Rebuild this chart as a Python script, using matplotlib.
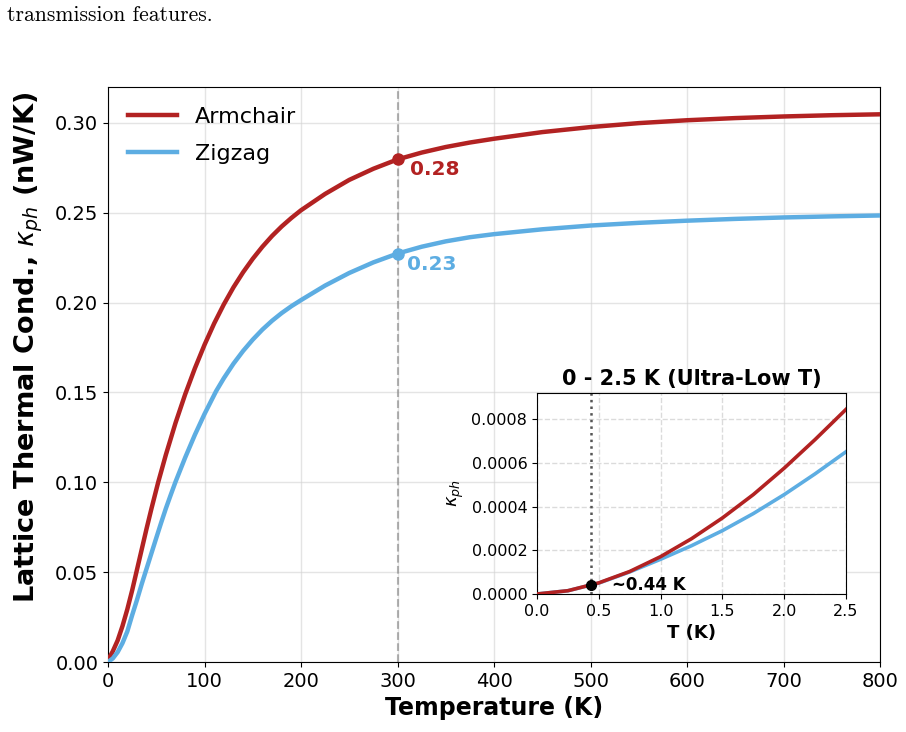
import numpy as np
import matplotlib
matplotlib.use('Agg')
from matplotlib import pyplot as plt

# main curves (nW/K)
T_arm = [0, 5, 10, 15, 20, 25, 30, 35, 40, 45, 52, 60, 70, 80, 90, 100, 110, 120, 130,
         140, 150, 160, 170, 180, 190, 200, 225, 250, 275, 300, 325, 350, 375, 400, 450,
         500, 550, 600, 650, 700, 750, 800]
k_arm = [0.001, 0.006, 0.012, 0.020, 0.0293, 0.0398, 0.0513, 0.0628, 0.0743, 0.0853,
         0.100, 0.1154, 0.1331, 0.149, 0.1634, 0.1765, 0.1884, 0.199, 0.2085, 0.2169,
         0.2244, 0.2311, 0.2371, 0.2424, 0.2471, 0.2514, 0.2605, 0.2683, 0.2745, 0.2797,
         0.2835, 0.2866, 0.2891, 0.2912, 0.2949, 0.2977, 0.2999, 0.3015, 0.3027, 0.3036,
         0.3043, 0.3048]

T_zig = [0, 5, 10, 15, 20, 25, 30, 35, 40, 45, 50, 55, 60, 65, 70, 80, 90, 100, 112, 120,
         130, 140, 150, 160, 170, 180, 190, 200, 225, 250, 275, 300, 325, 350, 375, 400,
         450, 500, 550, 600, 650, 700, 750, 800]
k_zig = [0.0, 0.002, 0.0055, 0.0105, 0.017, 0.026, 0.0345, 0.0435, 0.052, 0.0605, 0.069,
         0.0774, 0.0855, 0.093, 0.1003, 0.1138, 0.1264, 0.138, 0.1507, 0.1579, 0.166,
         0.1731, 0.1794, 0.185, 0.1899, 0.1942, 0.198, 0.2014, 0.2095, 0.2165, 0.2224,
         0.2273, 0.2311, 0.2341, 0.2364, 0.2381, 0.2408, 0.2429, 0.2444, 0.2456, 0.2466,
         0.2474, 0.2480, 0.2485]

T_room = 300
k_room_arm = 0.2797
k_room_zig = 0.2273

# ultra-low T inset
T_low = [0, 0.25, 0.5, 0.75, 1.0, 1.25, 1.5, 1.75, 2.0, 2.25, 2.5]
k_low_arm = [0, 1.5e-5, 5.1e-5, 1.03e-4, 1.71e-4, 2.53e-4, 3.48e-4, 4.55e-4, 5.76e-4, 7.07e-4, 8.45e-4]
k_low_zig = [0, 1.5e-5, 5.0e-5, 1.01e-4, 1.59e-4, 2.21e-4, 2.90e-4, 3.68e-4, 4.55e-4, 5.50e-4, 6.51e-4]
T_cross = 0.44
k_cross = 4.1e-5

red = '#B22222'
blue = '#5DADE2'

W, H = 906, 732
fig = plt.figure(figsize=(W / 100, H / 100), dpi=100)

fig.text(7 / W, 1 - 21 / H, 'transmission features.', family='cmr10', fontsize=15.5,
         ha='left', va='baseline')

ax = fig.add_axes([108 / W, (H - 662) / H, (880 - 108) / W, (662 - 87) / H])
ax.plot(T_arm, k_arm, color=red, lw=3.2, label='Armchair', zorder=3)
ax.plot(T_zig, k_zig, color=blue, lw=3.2, label='Zigzag', zorder=3)
ax.axvline(T_room, color='gray', ls='--', lw=1.5, alpha=0.6, zorder=2)
ax.plot([T_room], [k_room_arm], 'o', color=red, ms=8, zorder=4)
ax.plot([T_room], [k_room_zig], 'o', color=blue, ms=8, zorder=4)
ax.annotate('%.2f' % k_room_arm, (T_room, k_room_arm), xytext=(9, -7), textcoords='offset points',
            color=red, fontsize=14.5, fontweight='bold', ha='left', va='center')
ax.annotate('%.2f' % k_room_zig, (T_room, k_room_zig), xytext=(7, -8), textcoords='offset points',
            color=blue, fontsize=14.5, fontweight='bold', ha='left', va='center')

ax.set_xlim(0, 800)
ax.set_ylim(0, 0.32)
ax.set_xticks(np.arange(0, 801, 100))
ax.set_yticks(np.arange(0, 0.301, 0.05))
ax.tick_params(labelsize=14)
ax.grid(True, color='lightgray', alpha=0.6, lw=1)
ax.set_axisbelow(True)
ax.set_xlabel('Temperature (K)', fontsize=17, fontweight='bold')
ax.set_ylabel(r'Lattice Thermal Cond., $\kappa_{ph}$ (nW/K)', fontsize=19.5, fontweight='bold')
ax.yaxis.set_label_coords(-0.082, 0.548)
ax.legend(loc='upper left', frameon=False, fontsize=16, handlelength=2.2, labelspacing=0.75)

# inset
axi = fig.add_axes([537 / W, (H - 594) / H, (846 - 537) / W, (594 - 393) / H])
axi.plot(T_low, k_low_arm, color=red, lw=2.6, zorder=3)
axi.plot(T_low, k_low_zig, color=blue, lw=2.6, zorder=2)
axi.axvline(T_cross, color='#555555', ls=':', lw=1.8, zorder=2)
axi.plot([T_cross], [k_cross], 'o', color='black', ms=7, zorder=4)
axi.annotate('~%.2f K' % T_cross, (T_cross, k_cross), xytext=(15, 0), textcoords='offset points',
             fontsize=12, fontweight='bold', ha='left', va='center')
axi.set_xlim(0, 2.5)
axi.set_ylim(0, 0.00092)
axi.set_xticks(np.arange(0, 2.51, 0.5))
axi.set_yticks(np.arange(0, 0.00081, 0.0002))
axi.tick_params(labelsize=11.5)
axi.grid(True, ls='--', color='lightgray', alpha=0.8, lw=1)
axi.set_axisbelow(True)
axi.set_title('0 - 2.5 K (Ultra-Low T)', fontsize=15, fontweight='bold')
axi.set_xlabel('T (K)', fontsize=13, fontweight='bold')
axi.set_ylabel(r'$\kappa_{ph}$', fontsize=13)

fig.savefig('out.png', dpi=100)
